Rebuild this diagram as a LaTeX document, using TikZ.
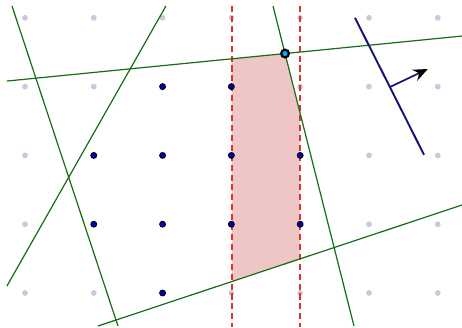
\documentclass[tikz,border=0pt]{standalone}
\usetikzlibrary{arrows.meta}
\definecolor{linegreen}{RGB}{20,110,20}
\definecolor{regionpink}{RGB}{239,198,198}
\definecolor{dashred}{RGB}{222,50,50}
\definecolor{gridgrey}{RGB}{200,200,222}
\definecolor{normalnavy}{RGB}{20,20,120}
\begin{document}
\begin{tikzpicture}
    \useasboundingbox (-0.363,-0.494) rectangle (6.352,4.259);
    % end points of the lines
    \coordinate (a1) at (-0.189,4.172); \coordinate (a2) at (1.352,-0.480);
    \coordinate (b1) at (2.049,4.172);  \coordinate (b2) at (-0.262,0.102);
    \coordinate (c1) at (-0.262,3.081); \coordinate (c2) at (6.352,3.735);
    \coordinate (d1) at (3.605,4.172);  \coordinate (d2) at (4.782,-0.480);
    \coordinate (e1) at (1.061,-0.480); \coordinate (e2) at (6.352,1.279);
    \coordinate (l1) at (3.008,4.172);  \coordinate (l2) at (3.008,-0.494);
    \coordinate (r1) at (3.997,4.172);  \coordinate (r2) at (3.997,-0.494);
    \fill[regionpink] (intersection of c1--c2 and l1--l2)
        -- (intersection of c1--c2 and d1--d2)
        -- (intersection of d1--d2 and r1--r2)
        -- (intersection of e1--e2 and r1--r2)
        -- (intersection of e1--e2 and l1--l2) -- cycle;
    \foreach \x in {0,...,6}
        \foreach \y in {0,...,4}
            \fill[gridgrey] (\x,\y) circle (1.2pt);
    \draw[dashred, line width=0.7pt, dash pattern=on 2.5pt off 1.6pt] (l1) -- (l2);
    \draw[dashred, line width=0.7pt, dash pattern=on 2.5pt off 1.6pt] (r1) -- (r2);
    \draw[linegreen, line width=0.5pt] (a1) -- (a2);
    \draw[linegreen, line width=0.5pt] (b1) -- (b2);
    \draw[linegreen, line width=0.5pt] (c1) -- (c2);
    \draw[linegreen, line width=0.5pt] (d1) -- (d2);
    \draw[linegreen, line width=0.5pt] (e1) -- (e2);
    \foreach \p in {(2,3),(3,3),(1,2),(2,2),(3,2),(4,2),(1,1),(2,1),(3,1),(4,1),(2,0)}
        \filldraw[fill=blue!80!black, draw=black, line width=0.4pt] \p circle (1.2pt);
    \filldraw[fill=cyan, draw=black, line width=0.9pt] (intersection of c1--c2 and d1--d2) circle (1.6pt);
    % normal vector
    \coordinate (n1) at (4.797,4.000); \coordinate (n2) at (5.800,2.009);
    \coordinate (m) at (5.305,2.994);   \coordinate (t) at (5.855,3.256);
    \draw[normalnavy, line width=0.8pt] (n1) -- (n2);
    \draw[normalnavy, line width=0.7pt, -{Stealth[black, length=6pt, width=5pt, inset=2pt]}] (m) -- (t);
\end{tikzpicture}
\end{document}
